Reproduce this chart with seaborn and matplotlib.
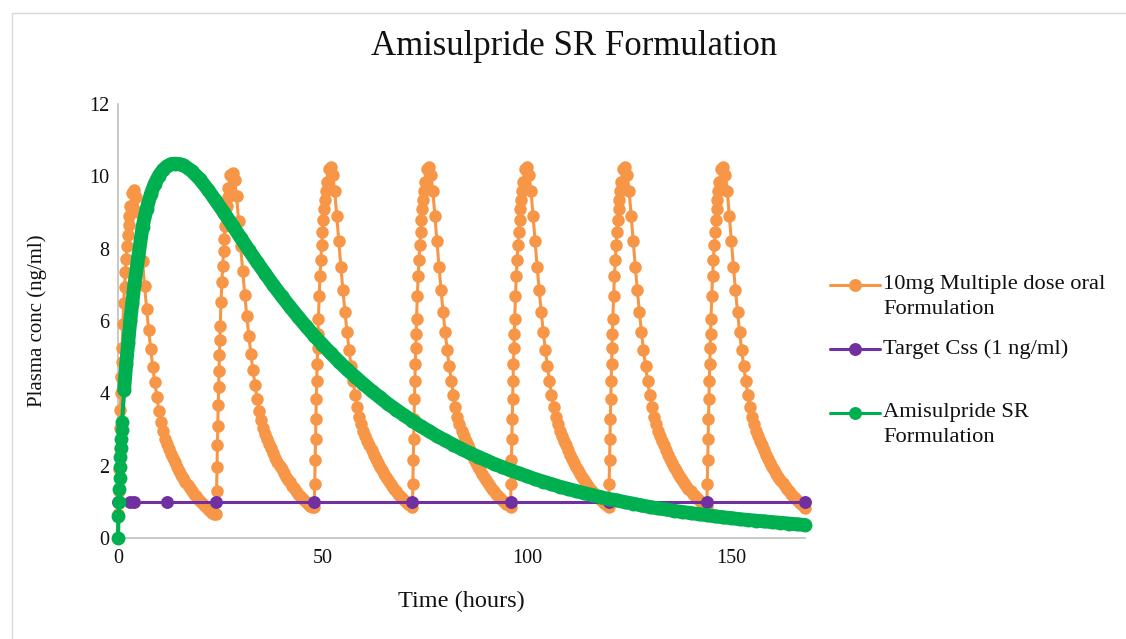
import matplotlib
matplotlib.use("Agg")
import matplotlib.pyplot as plt
from matplotlib.lines import Line2D
from matplotlib.patches import Rectangle
import seaborn as sns
import pandas as pd

# ---------------- data ----------------
title = "Amisulpride SR Formulation"
x_label = "Time (hours)"
y_label = "Plasma conc (ng/ml)"
x_ticks = [0, 50, 100, 150]
y_ticks = [0, 2, 4, 6, 8, 10, 12]

series_names = ["10mg Multiple dose oral\nFormulation",
                "Target Css (1 ng/ml)",
                "Amisulpride SR\nFormulation"]

# 10 mg multiple oral dose: dose times and time after each dose
dose_times = [0, 24, 48, 72, 96, 120, 144]
tau_hours = [0.0, 0.1, 0.2, 0.3, 0.4, 0.5, 0.6, 0.7, 0.8, 0.9, 1.0,
             1.2, 1.4, 1.6, 1.8, 2.0, 2.2, 2.4, 2.6, 2.8, 3.0,
             3.5, 4.0, 4.5, 5.0, 5.5, 6.0, 6.5, 7.0, 7.5, 8.0,
             8.5, 9.0, 9.5, 10.0, 10.5, 11.0, 11.5, 12.0, 12.5, 13.0,
             13.5, 14.0, 14.5, 15.0, 15.5, 16.0, 16.5, 17.0, 17.5, 18.0,
             18.5, 19.0, 19.5, 20.0, 20.5, 21.0, 21.5, 22.0, 22.5, 23.0, 23.5]
oral_cycle1 = [0.0, 0.66, 1.31, 1.92, 2.48, 3.03, 3.54, 4.00, 4.45, 4.86, 5.26,
               5.93, 6.49, 6.95, 7.36, 7.72, 8.08, 8.39, 8.65, 8.91, 9.17,
               9.55, 9.62, 9.44, 9.01, 8.33, 7.65, 6.97, 6.34, 5.75, 5.22,
               4.73, 4.30, 3.91, 3.52, 3.21, 2.95, 2.75, 2.59, 2.45, 2.33,
               2.21, 2.09, 1.96, 1.86, 1.75, 1.66, 1.56, 1.47, 1.38, 1.31,
               1.23, 1.16, 1.08, 1.02, 0.96, 0.90, 0.85, 0.80, 0.75, 0.69, 0.66]
oral_cycle2 = [0.66, 1.31, 1.96, 2.56, 3.11, 3.67, 4.17, 4.62, 5.07, 5.47, 5.87,
               6.52, 7.08, 7.53, 7.93, 8.28, 8.63, 8.94, 9.19, 9.44, 9.69,
               10.05, 10.10, 9.90, 9.46, 8.76, 8.07, 7.37, 6.73, 6.13, 5.58,
               5.09, 4.64, 4.24, 3.85, 3.52, 3.25, 3.04, 2.88, 2.73, 2.60,
               2.48, 2.35, 2.22, 2.11, 2.00, 1.90, 1.80, 1.70, 1.61, 1.54,
               1.45, 1.38, 1.30, 1.23, 1.17, 1.11, 1.06, 1.00, 0.95, 0.89, 0.85]
oral_steady = [0.86, 1.50, 2.15, 2.75, 3.30, 3.85, 4.35, 4.80, 5.25, 5.65, 6.05,
               6.70, 7.25, 7.70, 8.10, 8.45, 8.80, 9.10, 9.35, 9.60, 9.85,
               10.20, 10.25, 10.05, 9.60, 8.90, 8.20, 7.50, 6.85, 6.25, 5.70,
               5.20, 4.75, 4.35, 3.95, 3.62, 3.35, 3.14, 2.97, 2.82, 2.69,
               2.56, 2.43, 2.30, 2.19, 2.07, 1.97, 1.87, 1.77, 1.68, 1.60,
               1.51, 1.44, 1.36, 1.29, 1.23, 1.16, 1.11, 1.05, 1.00, 0.94, 0.90]
oral_end_time = 168
oral_end_conc = 0.84

# Target Css
target_time = [0, 3, 4, 12, 24, 48, 72, 96, 120, 144, 168]
target_conc = [1, 1, 1, 1, 1, 1, 1, 1, 1, 1, 1]

# Amisulpride SR formulation
sr_time = [0, 0.1, 0.2, 0.3, 0.4, 0.5, 0.6, 0.7, 0.8, 0.9, 1.0,
           1.5, 2.0, 2.5, 3.0, 3.5, 4.0, 5, 6, 7, 8, 9, 10, 11, 12, 13, 14,
           15, 16, 18, 20, 22, 24, 26, 28,
           30, 32, 34, 36, 38, 40, 42, 44, 46, 48, 50, 52, 54, 56, 58,
           60, 62, 64, 66, 68, 70, 72, 74, 76, 78, 80, 82, 84, 86, 88,
           90, 92, 94, 96, 98, 100, 102, 104, 106, 108, 110, 112, 114, 116, 118,
           120, 122, 124, 126, 128, 130, 132, 134, 136, 138, 140, 142, 144, 146, 148,
           150, 152, 154, 156, 158, 160, 162, 164, 166, 168]
sr_conc = [0.0, 0.6, 1.0, 1.35, 1.65, 1.95, 2.25, 2.5, 2.75, 3.0, 3.2,
           4.1, 4.8, 5.4, 6.0, 6.5, 7.0, 7.8, 8.6, 9.1, 9.5, 9.8, 10.02, 10.18, 10.28, 10.34, 10.35,
           10.34, 10.31, 10.15, 9.92, 9.63, 9.31, 8.98, 8.64,
           8.30, 7.96, 7.63, 7.31, 6.99, 6.69, 6.40, 6.12, 5.85, 5.59, 5.35, 5.11, 4.88, 4.66, 4.46,
           4.26, 4.07, 3.89, 3.71, 3.55, 3.39, 3.24, 3.09, 2.96, 2.82, 2.70, 2.58, 2.46, 2.35, 2.25,
           2.15, 2.05, 1.96, 1.87, 1.79, 1.71, 1.63, 1.56, 1.49, 1.42, 1.36, 1.30, 1.24, 1.19, 1.13,
           1.08, 1.04, 0.99, 0.95, 0.90, 0.86, 0.82, 0.79, 0.75, 0.72, 0.69, 0.66, 0.63, 0.60, 0.57,
           0.55, 0.52, 0.50, 0.48, 0.46, 0.44, 0.42, 0.40, 0.38, 0.36]

# ---------------- assemble tables ----------------
cycles = [oral_cycle1, oral_cycle2] + [oral_steady] * 5
oral_t, oral_c = [], []
for d, cyc in zip(dose_times, cycles):
    for tau, c in zip(tau_hours, cyc):
        oral_t.append(d + tau)
        oral_c.append(c)
oral_t.append(oral_end_time)
oral_c.append(oral_end_conc)
oral_df = pd.DataFrame({"time": oral_t, "conc": oral_c})
target_df = pd.DataFrame({"time": target_time, "conc": target_conc})
sr_df = pd.DataFrame({"time": sr_time, "conc": sr_conc})

# ---------------- style ----------------
ORANGE = "#F79646"
PURPLE = "#7030A0"
GREEN = "#00B050"
AXIS_GREY = "#BFBFBF"
TEXT = "#111111"

sns.set_style("white")
plt.rcParams["font.family"] = ["Liberation Serif", "DejaVu Serif"]

W, H = 1126, 639
fig = plt.figure(figsize=(W / 100, H / 100), dpi=100)
ax = fig.add_axes([118 / W, 1 - 538 / H, (805 - 118) / W, (538 - 104) / H])

# outer chart border
fig.add_artist(Rectangle((12 / W, -0.05), 1.2, 1 - 13 / H + 0.05,
                         transform=fig.transFigure, fill=False,
                         edgecolor="#D9D9D9", linewidth=1.0))

common = dict(estimator=None, sort=False, ax=ax, marker="o",
              markeredgewidth=0, clip_on=False, legend=False)
sns.lineplot(data=oral_df, x="time", y="conc", color=ORANGE,
             linewidth=2.2, markersize=9, zorder=3, **common)
sns.lineplot(data=target_df, x="time", y="conc", color=PURPLE,
             linewidth=2.2, markersize=9.3, zorder=4, **common)
sr_band = sr_df[sr_df["time"] >= 1.5]
sns.lineplot(data=sr_band, x="time", y="conc", color=GREEN, linewidth=10,
             ax=ax, estimator=None, sort=False, zorder=5, legend=False,
             solid_capstyle="round", solid_joinstyle="round", clip_on=False)
sns.lineplot(data=sr_df, x="time", y="conc", color=GREEN,
             linewidth=3, markersize=10, zorder=6, **common)

ax.set_xlim(0, 168)
ax.set_ylim(0, 12)
ax.set_xticks(x_ticks)
ax.set_yticks(y_ticks)
ax.tick_params(length=0, labelsize=14.5, colors=TEXT)
ax.tick_params(axis="y", pad=6)
ax.tick_params(axis="x", pad=8)
for side in ["top", "right"]:
    ax.spines[side].set_visible(False)
for side in ["left", "bottom"]:
    ax.spines[side].set_color(AXIS_GREY)
    ax.spines[side].set_linewidth(1.2)
ax.grid(False)

ax.set_xlabel(x_label, fontsize=17.5, color=TEXT)
ax.set_ylabel(y_label, fontsize=15, color=TEXT)
ax.xaxis.label.set_va("center")
ax.xaxis.set_label_coords(0.5, (538 - 601) / 434)
ax.yaxis.label.set_va("center")
ax.yaxis.label.set_ha("center")
ax.yaxis.set_label_coords((37 - 118) / 687, 0.5)

ax.set_title(title, fontsize=25, color=TEXT, x=(574 - 118) / 687,
             y=(538 - 55) / 434, va="center")

# ---------------- legend (manual, Excel style) ----------------
leg_colors = [ORANGE, PURPLE, GREEN]
leg_line_y = [285, 349, 413]
line_gap = 25
for name, col, yy in zip(series_names, leg_colors, leg_line_y):
    fy = 1 - yy / H
    fig.add_artist(Line2D([830 / W, 880 / W], [fy, fy], transform=fig.transFigure,
                          color=col, linewidth=2.2))
    fig.add_artist(Line2D([855 / W], [fy], transform=fig.transFigure,
                          color=col, marker="o", markersize=9.3, markeredgewidth=0))
    for i, part in enumerate(name.split("\n")):
        fig.text(883 / W, 1 - (yy + i * line_gap) / H, part, fontsize=16.2,
                 color=TEXT, va="center", ha="left")

fig.savefig("out.png", dpi=100)
